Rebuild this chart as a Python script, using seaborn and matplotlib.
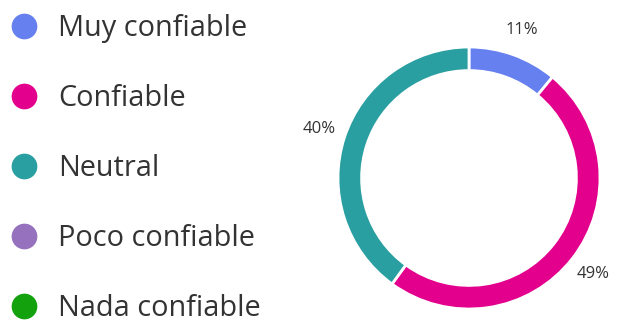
import matplotlib
matplotlib.use("Agg")
import matplotlib.pyplot as plt
import seaborn as sns
from matplotlib.lines import Line2D

categories = ["Muy confiable", "Confiable", "Neutral", "Poco confiable", "Nada confiable"]
values = [11, 49, 40, 0, 0]
colors = ["#6680EF", "#E3008C", "#2A9FA1", "#9571BE", "#13A10E"]

sns.set_theme(style="white")
plt.rcParams['font.family'] = ['Open Sans', 'DejaVu Sans']

fig = plt.figure(figsize=(6.19, 3.22), dpi=100)
ax = fig.add_axes([338/619, 13/322, 262/619, 262/322])

vals = [v for v in values if v > 0]
cols = [c for v, c in zip(values, colors) if v > 0]
wedges, texts, autotexts = ax.pie(
    vals, colors=cols, startangle=90, counterclock=False,
    autopct=lambda p: f"{p:.0f}%", pctdistance=1.2,
    wedgeprops=dict(width=0.18, edgecolor="white", linewidth=2),
    textprops=dict(fontsize=12, color="#333333"))
ax.set_xlim(-1, 1)
ax.set_ylim(-1, 1)
ax.set_aspect("equal")
for t in autotexts:
    t.set_clip_on(False)

handles = [Line2D([0], [0], marker="o", linestyle="", markersize=17.5,
                  markerfacecolor=c, markeredgecolor=c) for c in colors]
leg = fig.legend(handles, categories, loc="upper left", bbox_to_anchor=(-0.0265, 1.038),
                 frameon=False, fontsize=20.8, labelspacing=1.42, handletextpad=0.69,
                 handlelength=1.0, labelcolor="#333333")

fig.savefig("out.png", dpi=100, facecolor="white")
